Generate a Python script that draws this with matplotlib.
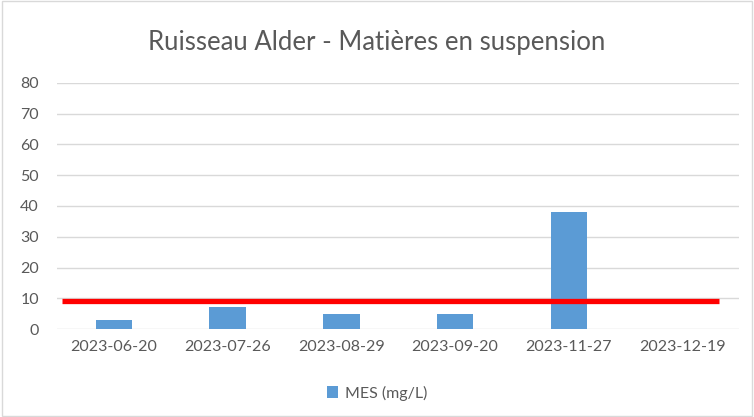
import matplotlib.pyplot as plt
import numpy as np
from matplotlib.patches import Rectangle

plt.rcParams['font.family'] = ['Lato', 'DejaVu Sans']

dates = ['2023-06-20', '2023-07-26', '2023-08-29', '2023-09-20', '2023-11-27', '2023-12-19']
mes = [3, 7, 5, 5, 38, 0]
seuil = 9
yticks = [0, 10, 20, 30, 40, 50, 60, 70, 80]

fig = plt.figure(figsize=(7.54, 4.17), dpi=100)
ax = fig.add_axes([0.0756, 0.211, 0.905, 0.59])

x = np.arange(len(dates))
ax.bar(x, mes, width=0.32, color='#5b9bd5', zorder=3, label='MES (mg/L)')
ax.hlines(seuil, -0.456, 5.317, color='#ff0000', linewidth=3.8, zorder=4)

ax.set_xlim(-0.5, len(dates) - 0.5)
ax.set_ylim(0, 80)
ax.set_yticks(yticks)
ax.set_xticks(x)
ax.set_xticklabels(dates)
ax.tick_params(axis='both', length=0, labelsize=11.5, colors='#595959')
ax.tick_params(axis='y', pad=13)
ax.tick_params(axis='x', pad=8)
ax.yaxis.grid(True, color='#d9d9d9', linewidth=1, zorder=0)
for s in ax.spines.values():
    s.set_visible(False)

fig.text(0.5, 0.897, 'Ruisseau Alder - Matières en suspension', ha='center', va='center',
         fontsize=18.5, color='#595959')

ax.legend(loc='center', frameon=False, fontsize=11.5, labelcolor='#595959', handlelength=0.7,
          handleheight=0.7, handletextpad=0.4)
leg = ax.get_legend()
leg.set_bbox_to_anchor((0.5, 1 - 393 / 417), transform=fig.transFigure)

fig.patches.append(Rectangle((0.002, 0.002), 0.996, 0.996, transform=fig.transFigure,
                             fill=False, edgecolor='#d9d9d9', linewidth=1))

fig.savefig('out.png', dpi=100)
